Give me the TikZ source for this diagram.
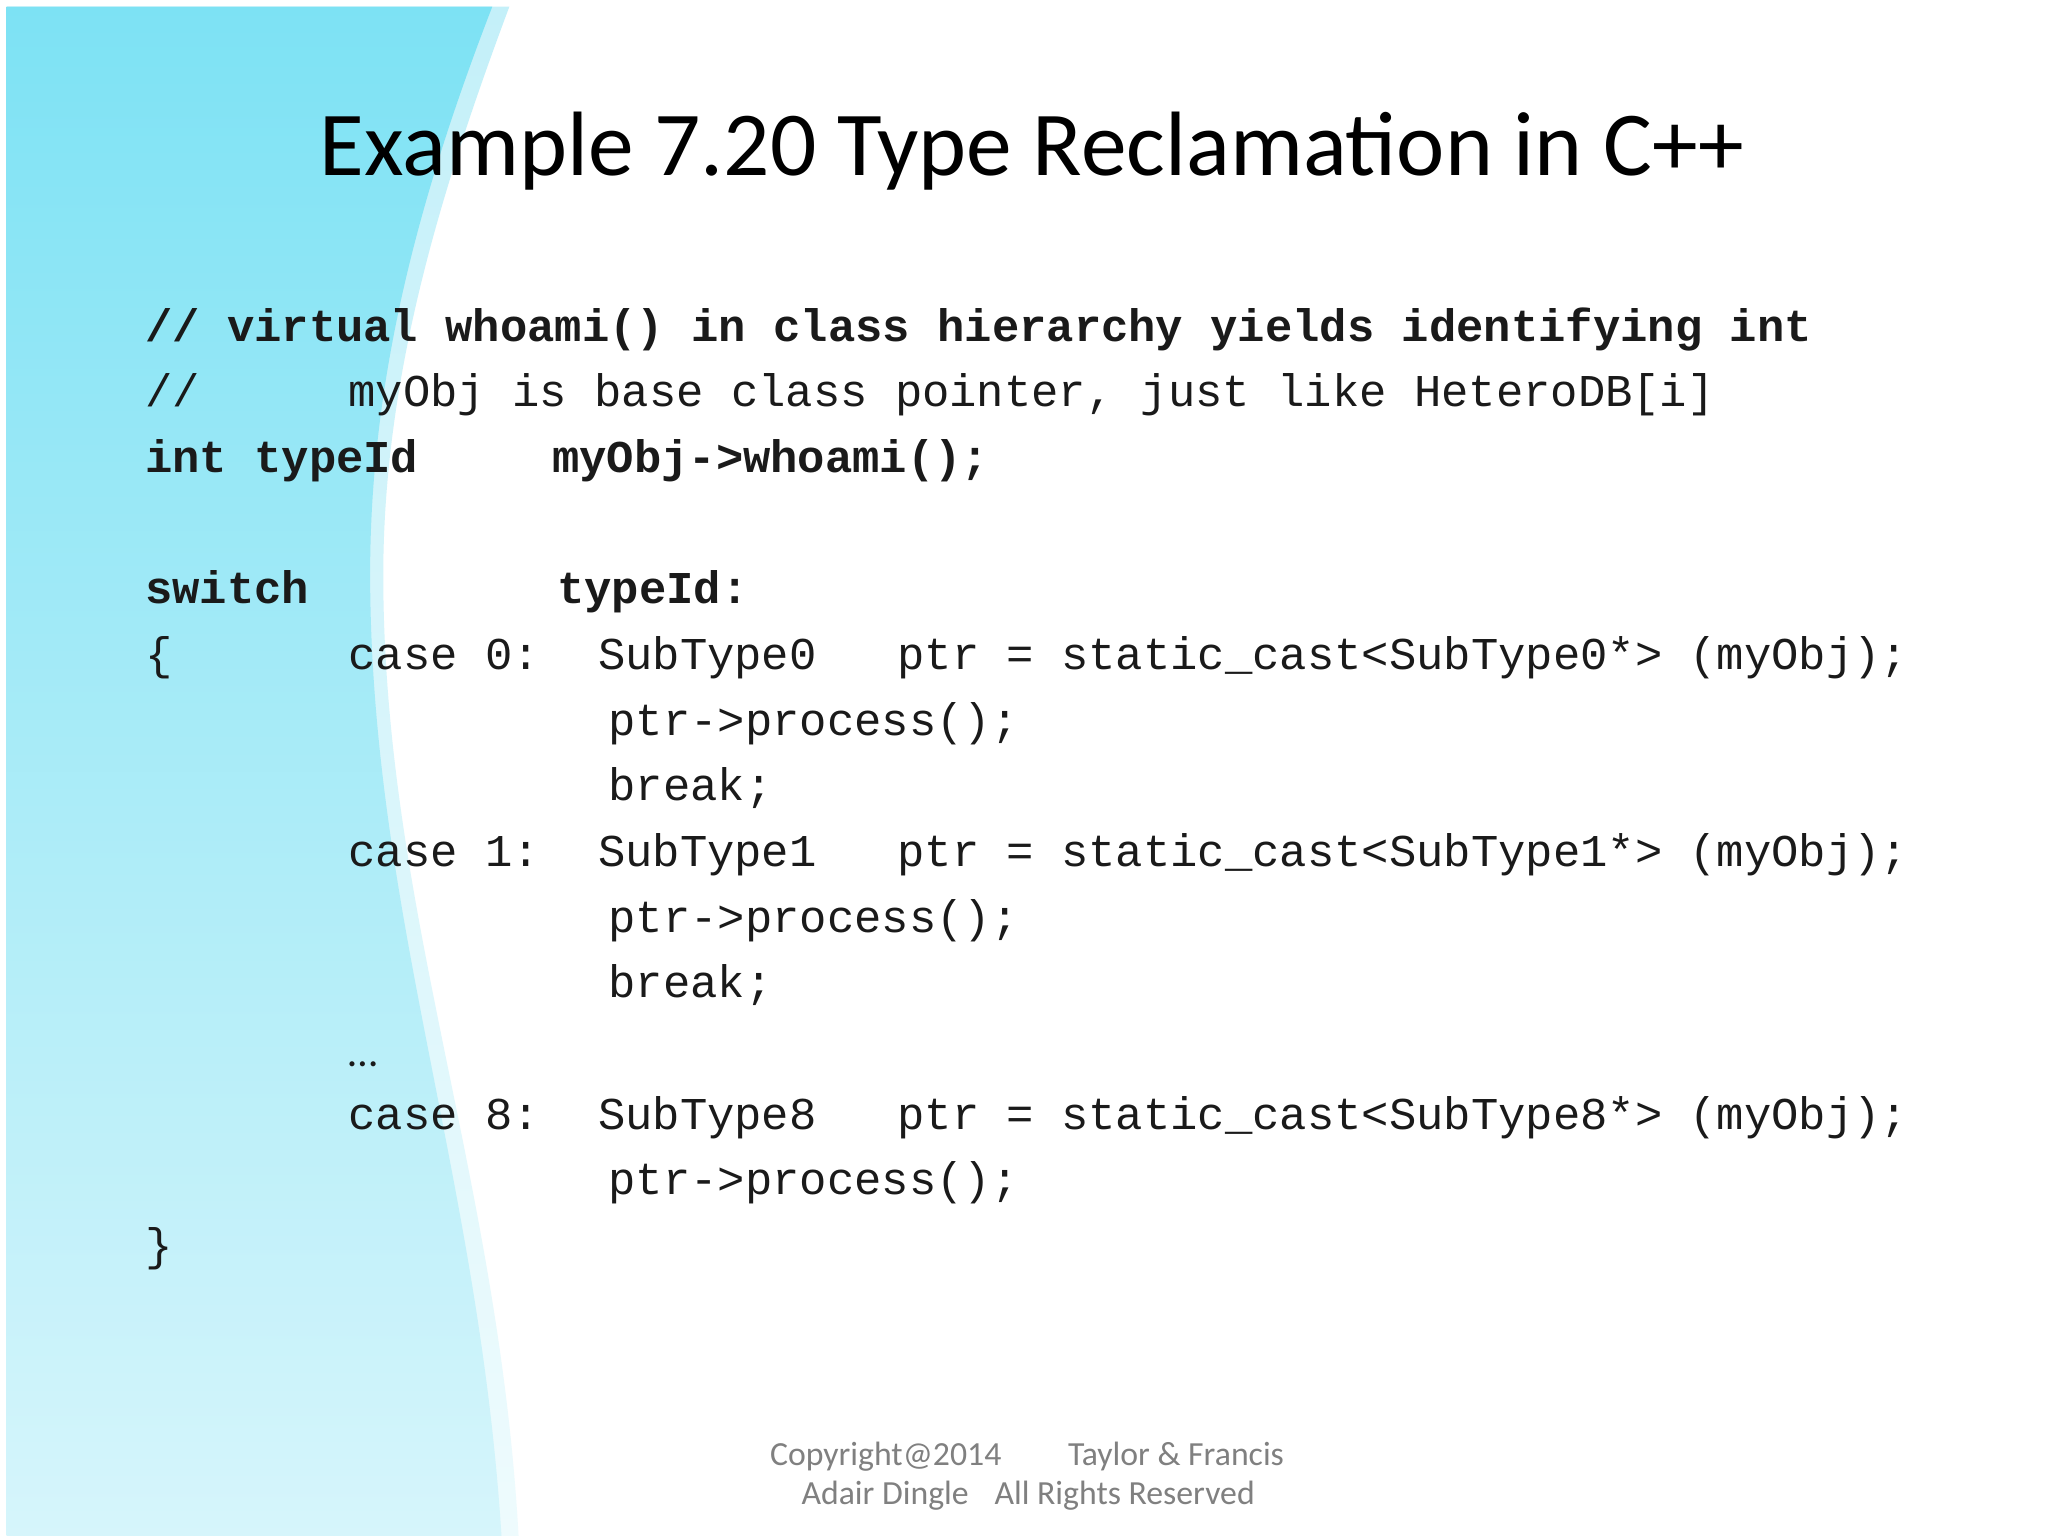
\documentclass[tikz,border=0pt]{standalone}
\usepackage{fontspec}
\setmainfont{Carlito}
\setmonofont{Liberation Mono}
\definecolor{ink}{HTML}{1A1A1A}
\definecolor{cyantop}{HTML}{7DE2F4}
\definecolor{cyanbot}{HTML}{D6F5FB}
\definecolor{bandtop}{HTML}{C4F0F9}
\definecolor{bandbot}{HTML}{EEFBFD}
\begin{document}
\begin{tikzpicture}[x=0.013128cm,y=-0.013128cm,
  code/.style={anchor=base west,inner sep=0pt,text=ink,font=\ttfamily\fontsize{12.95}{15}\selectfont},
  bcode/.style={code,font=\ttfamily\bfseries\fontsize{12.95}{15}\selectfont},
  foot/.style={anchor=base west,inner sep=0pt,text=gray,font=\fontsize{9.6}{11}\selectfont}]
\useasboundingbox (0,0) rectangle (1560,1170);
\fill[white] (0,0) rectangle (1560,1170);
% swoosh band
\shade[top color=bandtop,bottom color=bandbot]
  (5,5) -- (388,5) .. controls (330,160) and (290,300) .. (292,450)
  .. controls (295,700) and (380,900) .. (395,1170) -- (5,1170) -- cycle;
\shade[top color=cyantop,bottom color=cyanbot]
  (5,5) -- (375,5) .. controls (315,160) and (280,300) .. (282,450)
  .. controls (285,700) and (365,900) .. (382,1170) -- (5,1170) -- cycle;
% title
\node[anchor=base,inner sep=0pt,text=black,font=\fontsize{26}{30}\selectfont] (title) at (786,134) {Example 7.20 Type Reclamation in C++};
% code
\node[bcode] (l1) at (110,260) {// virtual whoami() in class hierarchy yields identifying int};
\node[code] (l2a) at (110,310) {//};
\node[code] (l2b) at (265,310) {myObj is base class pointer, just like HeteroDB[i]};
\node[bcode] (l3a) at (110,360) {int typeId};
\node[bcode] (l3b) at (420,360) {myObj->whoami();};
\node[bcode] (l4a) at (110,460) {switch};
\node[bcode] (l4b) at (424,460) {typeId:};
\node[code] (l5a) at (110,510) {\{};
\node[code] (l5b) at (265,510) {case 0:};
\node[code] (l5c) at (455,510) {SubType0};
\node[code] (l5d) at (683,510) {ptr = static\_cast<SubType0*> (myObj);};
\node[code] (l6) at (463,560) {ptr->process();};
\node[code] (l7) at (463,610) {break;};
\node[code] (l8b) at (265,660) {case 1:};
\node[code] (l8c) at (455,660) {SubType1};
\node[code] (l8d) at (683,660) {ptr = static\_cast<SubType1*> (myObj);};
\node[code] (l9) at (463,710) {ptr->process();};
\node[code] (l10) at (463,760) {break;};
\node[anchor=base west,inner sep=0pt,text=ink,font=\fontsize{12}{14}\selectfont] (dots) at (265,812) {…};
\node[code] (l12b) at (265,860) {case 8:};
\node[code] (l12c) at (455,860) {SubType8};
\node[code] (l12d) at (683,860) {ptr = static\_cast<SubType8*> (myObj);};
\node[code] (l13) at (463,910) {ptr->process();};
\node[code] (l14) at (110,960) {\}};
% footer
\node[foot] (f1) at (586,1116) {Copyright@2014};
\node[foot] (f1b) at (813,1116) {Taylor \& Francis};
\node[foot] (f2) at (610,1146) {Adair Dingle};
\node[foot] (f2b) at (757,1146) {All Rights Reserved};
\end{tikzpicture}
\end{document}
